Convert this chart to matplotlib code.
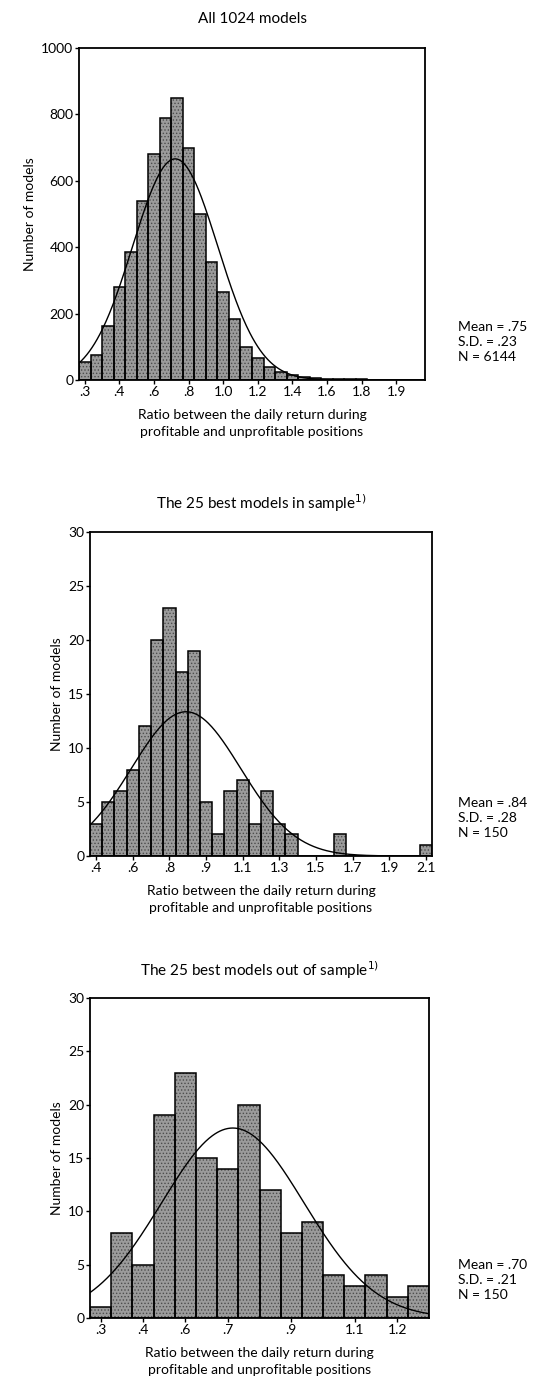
import numpy as np
import matplotlib
matplotlib.use('Agg')
import matplotlib.pyplot as plt

plt.rcParams['font.family'] = ['Lato', 'DejaVu Sans']
plt.rcParams['hatch.linewidth'] = 0.6

BIN_W = 0.0625

# All 1024 models
all_first = 0.26
all_counts = [55, 75, 162, 280, 385, 540, 680, 790, 850, 700, 500, 355, 266, 185,
              100, 65, 40, 25, 15, 10, 6, 4, 3, 2, 2, 1, 1, 1, 0, 0]
all_tick_bins = [0, 3, 6, 9, 12, 15, 18, 21, 24, 27]
all_tick_labels = ['.3', '.4', '.6', '.8', '1.0', '1.2', '1.4', '1.6', '1.8', '1.9']
all_stats = (0.75, 0.23, 6144)

# 25 best in sample
ins_first = 0.38
ins_counts = [3, 5, 6, 8, 12, 20, 23, 17, 19, 5, 2, 6, 7, 3, 6, 3, 2, 0, 0, 0,
              2, 0, 0, 0, 0, 0, 0, 1]
ins_tick_bins = [0, 3, 6, 9, 12, 15, 18, 21, 24, 27]
ins_tick_labels = ['.4', '.6', '.8', '.9', '1.1', '1.3', '1.5', '1.7', '1.9', '2.1']
ins_stats = (0.84, 0.28, 150)

# 25 best out of sample
out_first = 0.31
out_counts = [1, 8, 5, 19, 23, 15, 14, 20, 12, 8, 9, 4, 3, 4, 2, 3]
out_tick_bins = [0, 2, 4, 6, 9, 12, 14]
out_tick_labels = ['.3', '.4', '.6', '.7', '.9', '1.1', '1.2']
out_stats = (0.70, 0.21, 150)

W, H = 546, 1394


def fmt(v):
    return f'{v:.2f}'.lstrip('0')


def panel(fig, rect, title, title_y, first, counts, tick_bins, tick_labels,
          stats, ymax, ystep):
    ax = fig.add_axes(rect)
    centers = first + BIN_W * np.arange(len(counts))
    # speckled grey fill, then the black outlines on top
    ax.bar(centers, counts, width=BIN_W, color='#9b9b9b', edgecolor='#4d4d4d',
           linewidth=0, hatch='.....')
    ax.bar(centers, counts, width=BIN_W, fill=False, edgecolor='black',
           linewidth=1.1)
    lo, hi = centers[0] - BIN_W / 2, centers[-1] + BIN_W / 2
    mean, sd, n = stats
    xs = np.linspace(lo, hi, 400)
    ys = n * BIN_W / (sd * np.sqrt(2 * np.pi)) * np.exp(-0.5 * ((xs - mean) / sd) ** 2)
    ax.plot(xs, ys, color='black', lw=1.0)
    ax.set_xlim(lo, hi)
    ax.set_ylim(0, ymax)
    ax.set_yticks(np.arange(0, ymax + 1, ystep))
    ax.set_xticks(centers[tick_bins])
    ax.set_xticklabels(tick_labels)
    ax.tick_params(length=3, width=1, labelsize=10, pad=1)
    for s in ax.spines.values():
        s.set_linewidth(1.3)
    ax.set_ylabel('Number of models', fontsize=10, labelpad=4)
    ax.set_xlabel('Ratio between the daily return during\nprofitable and unprofitable positions',
                  fontsize=10, labelpad=8, linespacing=1.5)
    x0, y0, w, h = rect
    fig.text(x0 + w / 2, 1 - title_y / H, title, ha='center', va='center', fontsize=11)
    fig.text(458 / W, y0 + 0.012,
             f'Mean = {fmt(mean)}\nS.D. = {fmt(sd)}\nN = {n}',
             ha='left', va='bottom', fontsize=10, linespacing=1.3)
    return ax


fig = plt.figure(figsize=(W / 100, H / 100), dpi=100)

panel(fig, [79 / W, 1 - 380 / H, 346 / W, 332 / H], 'All 1024 models', 19,
      all_first, all_counts, all_tick_bins, all_tick_labels, all_stats, 1000, 200)
panel(fig, [90 / W, 1 - 856 / H, 342 / W, 324 / H], 'The 25 best models in sample$^{1)}$', 503,
      ins_first, ins_counts, ins_tick_bins, ins_tick_labels, ins_stats, 30, 5)
panel(fig, [90 / W, 1 - 1318 / H, 339 / W, 320 / H], 'The 25 best models out of sample$^{1)}$', 970,
      out_first, out_counts, out_tick_bins, out_tick_labels, out_stats, 30, 5)

fig.savefig('out.png', dpi=100, facecolor='white')
